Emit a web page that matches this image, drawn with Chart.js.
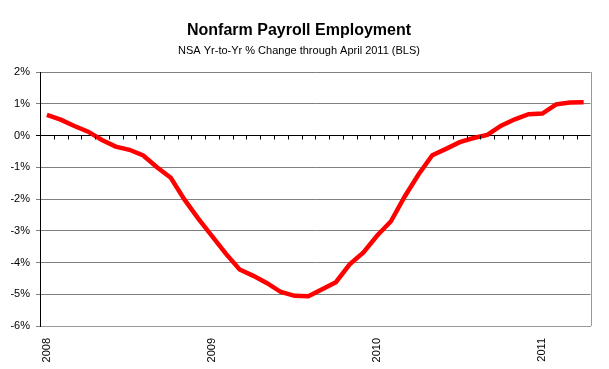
<!DOCTYPE html>
<html>
<head>
<meta charset="utf-8">
<script src="https://cdn.jsdelivr.net/npm/chart.js@4/dist/chart.umd.min.js"></script>
<style>
  html, body { margin: 0; padding: 0; background: #fff; }
  #wrap { width: 609px; height: 369px; }
</style>
</head>
<body>
<div id="wrap"><canvas id="payroll"></canvas></div>
<script>
// monthly, Jan 2008 .. Apr 2011
const years = ['2008', '2009', '2010', '2011'];
const months = ['Jan', 'Feb', 'Mar', 'Apr', 'May', 'Jun', 'Jul', 'Aug', 'Sep', 'Oct', 'Nov', 'Dec'];

const pct2008 = [0.65, 0.50, 0.30, 0.12, -0.14, -0.35, -0.45, -0.63, -1.00, -1.33, -2.02, -2.62];
const pct2009 = [-3.17, -3.72, -4.22, -4.42, -4.65, -4.93, -5.05, -5.06, -4.84, -4.62, -4.06, -3.68];
const pct2010 = [-3.15, -2.70, -1.92, -1.23, -0.62, -0.42, -0.21, -0.08, 0.02, 0.31, 0.51, 0.67];
const pct2011 = [0.69, 0.98, 1.04, 1.05];

const yTicks = [-6, -5, -4, -3, -2, -1, 0, 1, 2];

const values = pct2008.concat(pct2009, pct2010, pct2011);
const labels = values.map((v, i) => months[i % 12] + ' ' + years[Math.floor(i / 12)]);

const fontFamily = '"Liberation Sans", Arial, sans-serif';

// little tick marks hanging off the 0% line, plus the right edge of the frame
const frameBits = {
  id: 'frameBits',
  afterDatasetsDraw(chart) {
    const ctx = chart.ctx;
    const xs = chart.scales.x;
    const ys = chart.scales.y;
    const area = chart.chartArea;
    const y0 = ys.getPixelForValue(0);
    const step = xs.getPixelForValue(1) - xs.getPixelForValue(0);

    ctx.save();
    ctx.strokeStyle = '#000';
    ctx.lineWidth = 1;
    ctx.beginPath();
    for (let i = 0; i <= labels.length; i++) {
      const x = Math.round(xs.getPixelForValue(i) - step / 2) + 0.5;
      ctx.moveTo(x, y0);
      ctx.lineTo(x, y0 + 4);
    }
    ctx.stroke();

    ctx.strokeStyle = '#999';
    ctx.beginPath();
    ctx.moveTo(Math.round(area.right) + 0.5, area.top);
    ctx.lineTo(Math.round(area.right) + 0.5, area.bottom);
    ctx.stroke();
    ctx.restore();
  }
};

new Chart(document.getElementById('payroll'), {
  type: 'line',
  data: {
    labels: labels,
    datasets: [{
      label: 'Nonfarm Payroll',
      data: values,
      borderColor: '#ff0000',
      borderWidth: 4.5,
      pointRadius: 0,
      tension: 0,
      fill: false
    }]
  },
  options: {
    responsive: true,
    maintainAspectRatio: false,
    animation: false,
    layout: {
      padding: { left: 0, right: 11, top: 0, bottom: 0 }
    },
    scales: {
      x: {
        type: 'category',
        offset: true,
        grid: { display: false, drawTicks: false },
        border: { display: true, color: '#999' },
        ticks: {
          autoSkip: false,
          minRotation: 90,
          maxRotation: 90,
          padding: 12,
          color: '#000',
          font: { family: fontFamily, size: 11 },
          callback: function(value, index) {
            return index % 12 === 0 ? years[index / 12] : '';
          }
        },
        afterFit(scale) { scale.height = 43; }
      },
      y: {
        min: yTicks[0],
        max: yTicks[yTicks.length - 1],
        afterBuildTicks(scale) {
          scale.ticks = yTicks.map(v => ({ value: v }));
        },
        grid: {
          color: ctx => ctx.tick && ctx.tick.value === 0 ? '#000' : '#808080',
          tickLength: 4
        },
        border: { display: true, color: '#000' },
        ticks: {
          padding: 6,
          color: '#000',
          font: { family: fontFamily, size: 11 },
          callback: v => v + '%'
        },
        afterFit(scale) { scale.width = 40; }
      }
    },
    plugins: {
      legend: { display: false },
      tooltip: { enabled: false },
      title: {
        display: true,
        text: 'Nonfarm Payroll Employment',
        color: '#000',
        font: { family: fontFamily, size: 16, weight: 'bold' },
        padding: { top: 21, bottom: 4 }
      },
      subtitle: {
        display: true,
        text: 'NSA Yr-to-Yr % Change through April 2011 (BLS)',
        color: '#000',
        font: { family: fontFamily, size: 11 },
        padding: { top: 0, bottom: 14.6 }
      }
    }
  },
  plugins: [frameBits]
});
</script>
</body>
</html>
